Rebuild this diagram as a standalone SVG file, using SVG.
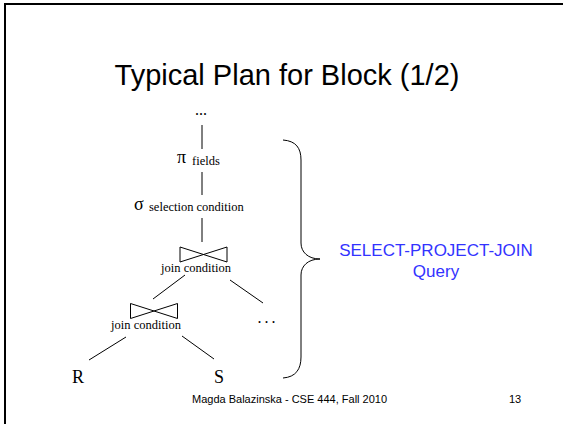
<svg xmlns="http://www.w3.org/2000/svg" width="563" height="424" viewBox="0 0 563 424">
  <style>
    .serif { font-family: "Liberation Serif", "Times New Roman", serif; fill: #000; }
    .sans { font-family: "Liberation Sans", Arial, sans-serif; fill: #000; }
    .blue { fill: #3333ff; }
    .edge { stroke: #000; stroke-width: 1; fill: none; }
    .join { stroke: #000; stroke-width: 1; fill: none; stroke-linejoin: miter; }
    .sub { font-size: 12.5px; }
  </style>
  <defs>
    <!-- bowtie join symbol, origin at its centre -->
    <path id="bowtie" d="M-23.5,-7.5 L23.5,7.5 L23.5,-7.5 L-23.5,7.5 Z"/>
  </defs>

  <rect x="0" y="0" width="563" height="424" fill="#fff"/>
  <!-- slide frame (only top and left edges fall inside the view) -->
  <rect x="5" y="4" width="700" height="600" fill="none" stroke="#000" stroke-width="2"/>

  <text class="sans" x="287" y="85" font-size="29" text-anchor="middle">Typical Plan for Block (1/2)</text>

  <g id="connectors">
    <line class="edge" x1="202" y1="125" x2="202" y2="149"/>
    <line class="edge" x1="202" y1="172" x2="202" y2="195"/>
    <line class="edge" x1="202" y1="218" x2="202" y2="242"/>
    <line class="edge" x1="185" y1="275" x2="153" y2="299"/>
    <line class="edge" x1="230" y1="280" x2="263" y2="303"/>
    <line class="edge" x1="126" y1="337" x2="89" y2="360"/>
    <line class="edge" x1="182" y1="336" x2="214" y2="359"/>
  </g>

  <g id="top-more">
    <text class="serif" x="201" y="115" font-size="16" text-anchor="middle">...</text>
  </g>

  <g id="project">
    <text class="serif" x="177" y="163" font-size="18">π</text>
    <text class="serif sub" x="192" y="165">fields</text>
  </g>

  <g id="select">
    <text class="serif" x="134" y="210" font-size="18">σ</text>
    <text class="serif sub" x="149" y="211">selection condition</text>
  </g>

  <g id="join-upper">
    <use href="#bowtie" class="join" x="203.5" y="254.5"/>
    <text class="serif sub" x="196" y="272" text-anchor="middle">join condition</text>
  </g>

  <g id="join-lower">
    <use href="#bowtie" class="join" x="154" y="311"/>
    <text class="serif sub" x="146" y="329" text-anchor="middle">join condition</text>
  </g>

  <g id="right-more">
    <text class="serif" x="268" y="323" font-size="16" text-anchor="middle" letter-spacing="3">...</text>
  </g>

  <g id="rel-R">
    <text class="serif" x="72" y="383" font-size="18">R</text>
  </g>

  <g id="rel-S">
    <text class="serif" x="214" y="383" font-size="18">S</text>
  </g>

  <g id="spj-brace">
    <path class="edge" stroke-width="1.3" d="M283,140 C296,141 301,148 301,160 L301,243 C301,252 308,259 320,259 C308,259 301,266 301,275 L301,357 C301,369 296,377 283,378"/>
    <text class="sans blue" x="436" y="256" font-size="17" text-anchor="middle">SELECT-PROJECT-JOIN</text>
    <text class="sans blue" x="436" y="277" font-size="17" text-anchor="middle">Query</text>
  </g>

  <text class="sans" x="192" y="403" font-size="11">Magda Balazinska - CSE 444, Fall 2010</text>
  <text class="sans" x="509" y="403" font-size="11">13</text>
</svg>
